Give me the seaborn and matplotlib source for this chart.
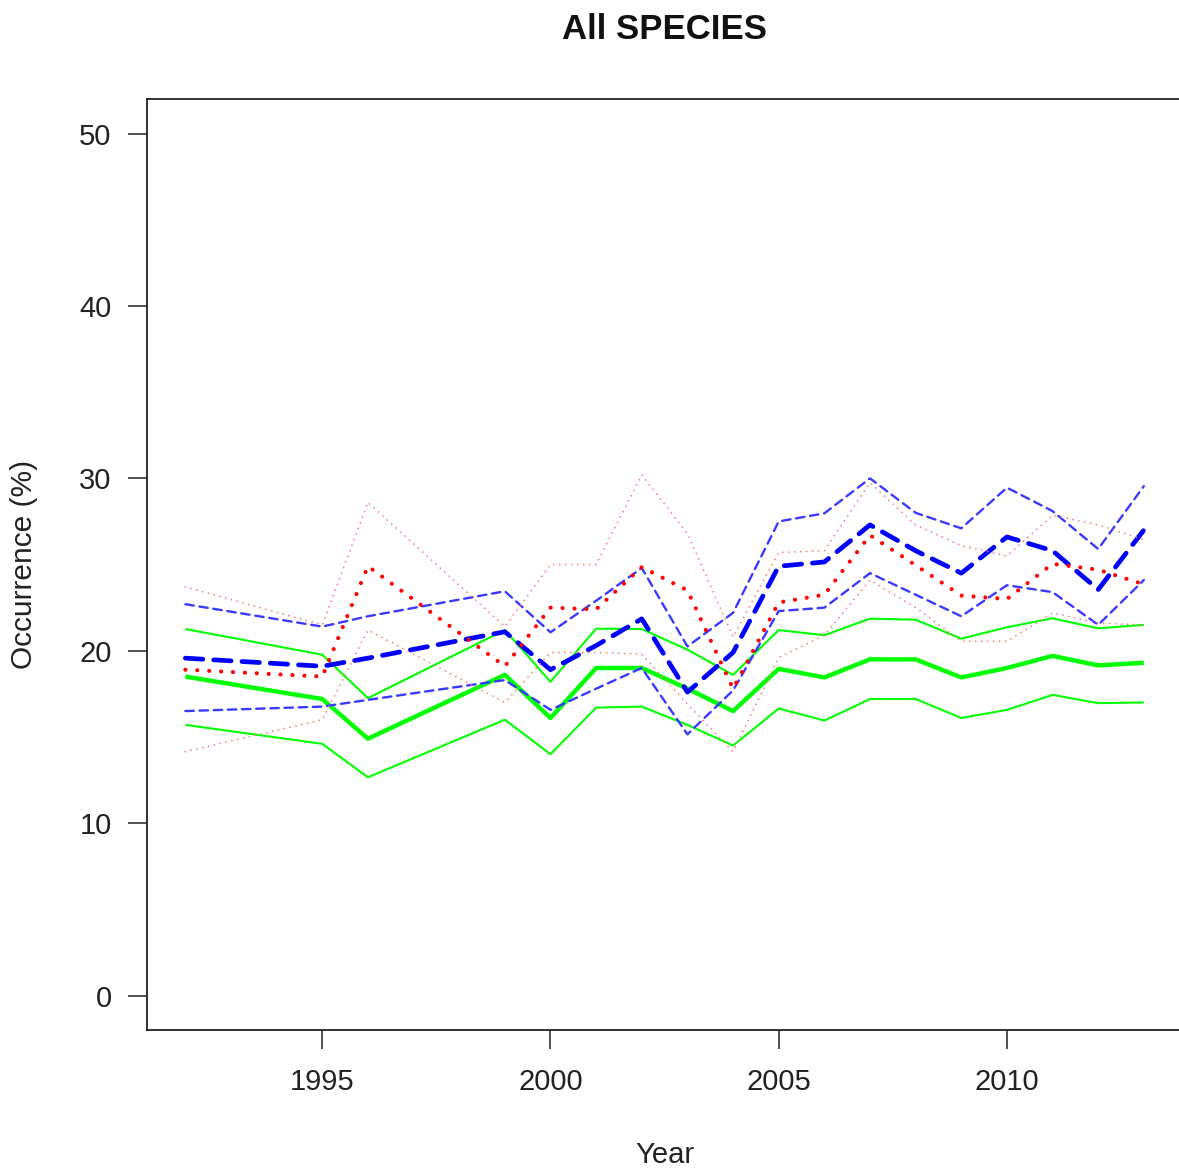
import pandas as pd
import matplotlib
matplotlib.use("Agg")
import matplotlib.pyplot as plt
import seaborn as sns

# survey years (gaps 1993-94 and 1997-98)
years = [1992, 1995, 1996, 1999, 2000, 2001, 2002, 2003, 2004,
         2005, 2006, 2007, 2008, 2009, 2010, 2011, 2012, 2013]

green_mean = [18.5, 17.2, 14.9, 18.6, 16.1, 19.0, 19.0, 17.8, 16.5,
              18.95, 18.45, 19.5, 19.5, 18.45, 19.0, 19.7, 19.15, 19.3]
green_upper = [21.26, 19.77, 17.25, 21.2, 18.2, 21.28, 21.26, 20.06, 18.6,
               21.2, 20.9, 21.86, 21.8, 20.7, 21.36, 21.88, 21.3, 21.5]
green_lower = [15.7, 14.6, 12.66, 16.0, 14.0, 16.7, 16.76, 15.7, 14.5,
               16.65, 15.95, 17.2, 17.2, 16.1, 16.57, 17.44, 16.96, 17.0]

blue_mean = [19.57, 19.1, 19.57, 21.1, 18.9, 20.3, 21.85, 17.6, 19.9,
             24.9, 25.15, 27.3, 25.8, 24.5, 26.6, 25.8, 23.55, 27.0]
blue_upper = [22.7, 21.4, 22.0, 23.45, 21.07, 22.9, 24.8, 20.25, 22.2,
              27.5, 27.97, 30.0, 28.0, 27.1, 29.46, 28.1, 25.9, 29.55]
blue_lower = [16.5, 16.76, 17.15, 18.3, 16.57, 17.8, 19.0, 15.15, 17.7,
              22.3, 22.5, 24.5, 23.25, 22.0, 23.8, 23.4, 21.5, 24.1]

red_mean = [18.9, 18.5, 24.9, 19.1, 22.5, 22.4, 24.85, 23.5, 17.8,
            22.8, 23.25, 26.7, 24.96, 23.2, 23.0, 25.04, 24.7, 23.85]
red_upper = [23.7, 21.5, 28.6, 21.4, 25.0, 25.0, 30.2, 26.8, 20.8,
             25.7, 25.8, 29.75, 27.3, 26.1, 25.5, 27.85, 27.3, 26.45]
red_lower = [14.15, 16.0, 21.2, 17.0, 19.9, 19.9, 19.8, 16.9, 14.15,
             19.6, 20.9, 24.1, 22.5, 20.55, 20.55, 22.2, 21.6, 21.5]

sns.set_theme(style="white")
plt.rcParams["font.family"] = ["Liberation Sans", "DejaVu Sans"]

fig = plt.figure(figsize=(11.79, 11.71), dpi=100)
ax = fig.add_axes([0.1247, 0.1204, 0.878, 0.795])

# (values, colour, linewidth, linestyle)
series = [
    (green_upper, "#00ff00", 1.5, "-"),
    (green_lower, "#00ff00", 1.5, "-"),
    (green_mean, "#00ff00", 3.2, "-"),
    (blue_upper, "#3a3aff", 1.7, (0, (3.6, 2.4))),
    (blue_lower, "#3a3aff", 1.7, (0, (3.6, 2.4))),
    (blue_mean, "#0000ff", 3.4, (0, (3.7, 2.3))),
    (red_upper, "#ff7a7a", 1.3, (0, (0.01, 3.3))),
    (red_lower, "#ff7a7a", 1.3, (0, (0.01, 3.3))),
    (red_mean, "#ff0000", 3.0, (0, (0.01, 2.85))),
]

for vals, col, lw, ls in series:
    df = pd.DataFrame({"Year": years, "Occurrence": vals})
    sns.lineplot(data=df, x="Year", y="Occurrence", ax=ax, color=col,
                 linewidth=lw, linestyle=ls, errorbar=None,
                 solid_capstyle="butt", dash_capstyle="round")

ax.set_xlim(1991.16, 2013.84)
ax.set_ylim(-2, 52)
ax.set_xticks([1995, 2000, 2005, 2010])
ax.set_yticks([0, 10, 20, 30, 40, 50])

for sp in ax.spines.values():
    sp.set_visible(True)
    sp.set_color("#222222")
    sp.set_linewidth(1.3)

ax.tick_params(axis="both", direction="out", length=13.5, width=1.1,
               colors="#222222", labelsize=21, bottom=True, left=True)
ax.tick_params(axis="x", pad=14)
ax.tick_params(axis="y", pad=12)

ax.set_xlabel("Year", fontsize=21, color="#222222", labelpad=32)
ax.set_ylabel("Occurrence (%)", fontsize=21.5, color="#222222", labelpad=30)
fig.text(0.564, 0.975, "All SPECIES", ha="center", va="center",
         fontsize=25, fontweight="bold", color="#111111")

fig.savefig("out.png", dpi=100, facecolor="white")
